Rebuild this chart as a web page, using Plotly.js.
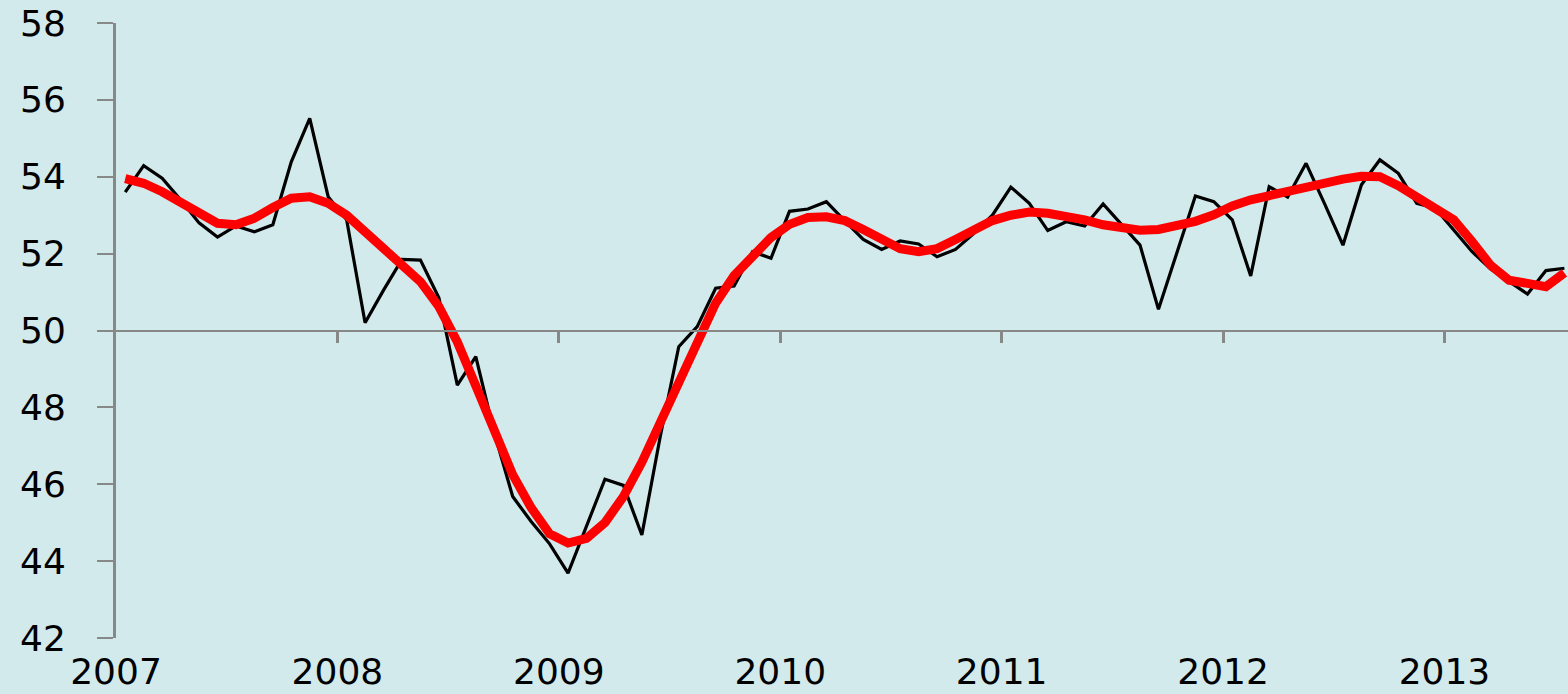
<!DOCTYPE html>
<html>
<head>
<meta charset="utf-8">
<script src="https://cdn.plot.ly/plotly-3.0.1.min.js"></script>
<style>
  html, body { margin: 0; padding: 0; background: #D2EAEC; }
  #chart { width: 1568px; height: 694px; }
</style>
</head>
<body>
<div id="chart"></div>
<script>
// Monthly series, Jan 2007 .. Jul 2013
const startYear = 2007;
const yearLabels = ['2007', '2008', '2009', '2010', '2011', '2012', '2013'];
const yTicks = [42, 44, 46, 48, 50, 52, 54, 56, 58];

const monthly = [
  53.6, 54.29, 53.96, 53.4, 52.8, 52.43, 52.72, 52.57, 52.75, 54.39, 55.52, 53.48,
  52.88, 50.2, 51.05, 51.85, 51.83, 50.85, 48.58, 49.32, 47.34, 45.68, 45.03, 44.45,
  43.69, 44.93, 46.13, 45.97, 44.68, 47.25, 49.58, 50.1, 51.1, 51.16, 52.05, 51.88,
  53.1, 53.16, 53.35, 52.85, 52.37, 52.11, 52.33, 52.25, 51.92, 52.11, 52.53, 53.0,
  53.73, 53.31, 52.6, 52.83, 52.72, 53.29, 52.75, 52.22, 50.55, 52.05, 53.5, 53.35,
  52.88, 51.42, 53.74, 53.47, 54.35, 53.3, 52.22, 53.79, 54.44, 54.09, 53.31, 53.18,
  52.6, 52.05, 51.6, 51.27, 50.95, 51.56, 51.62
];

const trend = [
  53.95, 53.83, 53.61, 53.35, 53.05, 52.79, 52.75, 52.92, 53.2, 53.44, 53.48, 53.31,
  53.0, 52.57, 52.14, 51.7, 51.27, 50.62, 49.7, 48.56, 47.37, 46.25, 45.39, 44.71,
  44.47, 44.59, 45.0, 45.68, 46.57, 47.64, 48.7, 49.67, 50.71, 51.43, 51.96, 52.42,
  52.76, 52.94, 52.96, 52.86, 52.63, 52.35, 52.13, 52.05, 52.13, 52.37, 52.61, 52.86,
  53.0, 53.08, 53.05, 52.98, 52.88, 52.75, 52.65, 52.61, 52.63, 52.72, 52.84, 53.01,
  53.24, 53.4, 53.52, 53.6, 53.72, 53.83, 53.94, 54.01, 54.0, 53.77, 53.47, 53.14,
  52.88, 52.31, 51.7, 51.31, 51.23, 51.14, 51.5
];

// month index -> position on a year axis (mid-month)
const xPos = monthly.map((_, i) => startYear + (i + 0.5) / 12);
const yearVals = yearLabels.map(Number);

const axisGray = '#888888';
const bg = '#D2EAEC';
const font = { family: 'DejaVu Sans, Verdana, sans-serif', size: 36, color: '#000000' };
const xRange = [2007, 2013.558];

const traces = [
  {
    // carrier for the axis drawn through 50 (invisible)
    x: xPos, y: monthly, type: 'scatter', mode: 'lines', xaxis: 'x2',
    line: { color: 'rgba(0,0,0,0)', width: 0 },
    hoverinfo: 'skip', showlegend: false
  },
  {
    x: xPos, y: monthly, type: 'scatter', mode: 'lines',
    line: { color: '#000000', width: 3.2 },
    hoverinfo: 'skip', showlegend: false
  },
  {
    x: xPos, y: trend, type: 'scatter', mode: 'lines',
    line: { color: '#FF0000', width: 9 },
    hoverinfo: 'skip', showlegend: false
  }
];

const layout = {
  width: 1568, height: 694,
  paper_bgcolor: bg, plot_bgcolor: bg,
  margin: { l: 116, r: 0, t: 23, b: 56 },
  font: font,
  showlegend: false,
  xaxis: {
    range: xRange,
    tickmode: 'array', tickvals: yearVals, ticktext: yearLabels,
    showline: false, showgrid: false, zeroline: false,
    ticks: '', ticklabelstandoff: 9,
    tickfont: font
  },
  xaxis2: {
    range: xRange,
    overlaying: 'x', anchor: 'free', position: 0.5,
    tickmode: 'array', tickvals: yearVals.slice(1),
    showticklabels: false,
    showline: true, linecolor: axisGray, linewidth: 2,
    ticks: 'outside', ticklen: 11, tickwidth: 3, tickcolor: axisGray,
    showgrid: false, zeroline: false
  },
  yaxis: {
    range: [42, 58],
    tickmode: 'array', tickvals: yTicks,
    showline: true, linecolor: axisGray, linewidth: 3,
    ticks: 'outside', ticklen: 16, tickwidth: 2, tickcolor: axisGray,
    showgrid: false, zeroline: false,
    ticklabelstandoff: 24,
    tickfont: font
  }
};

Plotly.newPlot('chart', traces, layout, { staticPlot: true, displayModeBar: false });
</script>
</body>
</html>
